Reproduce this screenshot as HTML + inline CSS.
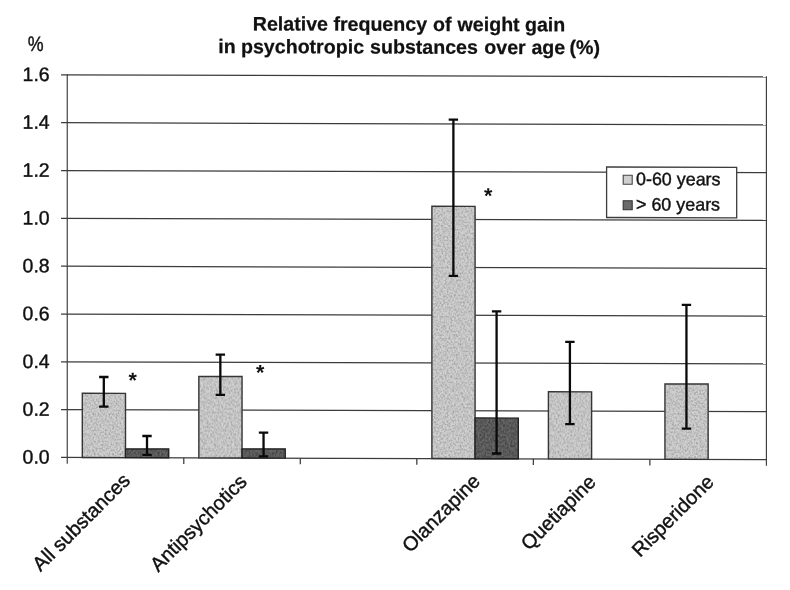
<!DOCTYPE html>
<html><head><meta charset="utf-8"><title>Relative frequency of weight gain</title>
<style>
html,body{margin:0;padding:0;background:#fff;}
body{width:790px;height:590px;overflow:hidden;}
svg{display:block;}
text{font-family:"Liberation Sans",Arial,Helvetica,sans-serif;fill:#111;stroke:#111;stroke-width:0.4px;}
.ax{font-size:19.5px;}
.pc{font-size:21px;}
.ti{font-size:19.6px;font-weight:bold;stroke-width:0.25px;}
.lg{font-size:17.9px;}
.xl{font-size:19.9px;}
.as{font-size:21.5px;font-weight:bold;stroke:none;}
</style></head><body>
<svg width="790" height="590" viewBox="0 0 790 590">
<defs>
<filter id="nl" x="0" y="0" width="100%" height="100%" color-interpolation-filters="sRGB">
<feTurbulence type="fractalNoise" baseFrequency="0.55" numOctaves="2" seed="7" result="t"/>
<feColorMatrix in="t" type="matrix" values="0.55 0 0 0 0.655  0.55 0 0 0 0.655  0.55 0 0 0 0.655  0 0 0 0 1" result="g"/>
<feGaussianBlur in="g" stdDeviation="0.45" result="gb"/>
<feComposite in="gb" in2="SourceGraphic" operator="in" result="c"/>
<feBlend in="c" in2="SourceGraphic" mode="multiply"/>
</filter>
<filter id="nd" x="0" y="0" width="100%" height="100%" color-interpolation-filters="sRGB">
<feTurbulence type="fractalNoise" baseFrequency="0.55" numOctaves="2" seed="11" result="t"/>
<feColorMatrix in="t" type="matrix" values="0.9 0 0 0 0.4  0.9 0 0 0 0.4  0.9 0 0 0 0.4  0 0 0 0 1" result="g"/>
<feGaussianBlur in="g" stdDeviation="0.45" result="gb"/>
<feComposite in="gb" in2="SourceGraphic" operator="in" result="c"/>
<feBlend in="c" in2="SourceGraphic" mode="multiply"/>
</filter>
</defs>
<rect width="790" height="590" fill="#fff"/>
<g transform="matrix(1 0.00293 0 1 0 -1.1573)">
<line x1="61.05" y1="458.45" x2="766.40" y2="458.45" stroke="#3c3c3c" stroke-width="1.25"/>
<line x1="61.05" y1="410.63" x2="766.40" y2="410.63" stroke="#3c3c3c" stroke-width="1.25"/>
<line x1="61.05" y1="362.81" x2="766.40" y2="362.81" stroke="#3c3c3c" stroke-width="1.25"/>
<line x1="61.05" y1="314.99" x2="766.40" y2="314.99" stroke="#3c3c3c" stroke-width="1.25"/>
<line x1="61.05" y1="267.18" x2="766.40" y2="267.18" stroke="#3c3c3c" stroke-width="1.25"/>
<line x1="61.05" y1="219.36" x2="766.40" y2="219.36" stroke="#3c3c3c" stroke-width="1.25"/>
<line x1="61.05" y1="171.54" x2="766.40" y2="171.54" stroke="#3c3c3c" stroke-width="1.25"/>
<line x1="61.05" y1="123.72" x2="766.40" y2="123.72" stroke="#3c3c3c" stroke-width="1.25"/>
<line x1="61.05" y1="75.90" x2="766.40" y2="75.90" stroke="#3c3c3c" stroke-width="1.25"/>
<line x1="67.25" y1="75.275" x2="67.25" y2="464.65" stroke="#3c3c3c" stroke-width="1.15"/>
<line x1="766.4" y1="75.275" x2="766.4" y2="464.65" stroke="#3c3c3c" stroke-width="1.15"/>
<line x1="183.77" y1="458.45" x2="183.77" y2="464.65" stroke="#3c3c3c" stroke-width="1.25"/>
<line x1="300.30" y1="458.45" x2="300.30" y2="464.65" stroke="#3c3c3c" stroke-width="1.25"/>
<line x1="416.82" y1="458.45" x2="416.82" y2="464.65" stroke="#3c3c3c" stroke-width="1.25"/>
<line x1="533.35" y1="458.45" x2="533.35" y2="464.65" stroke="#3c3c3c" stroke-width="1.25"/>
<line x1="649.88" y1="458.45" x2="649.88" y2="464.65" stroke="#3c3c3c" stroke-width="1.25"/>
<rect x="82.31" y="394.15" width="43.2" height="64.30" fill="#d2d2d2" filter="url(#nl)"/>
<rect x="82.31" y="394.15" width="43.2" height="64.30" fill="none" stroke="#353535" stroke-width="1.4"/>
<rect x="125.51" y="449.73" width="43.2" height="8.72" fill="#696969" filter="url(#nd)"/>
<rect x="125.51" y="449.73" width="43.2" height="8.72" fill="none" stroke="#222" stroke-width="1.4"/>
<rect x="198.84" y="377.01" width="43.2" height="81.44" fill="#d2d2d2" filter="url(#nl)"/>
<rect x="198.84" y="377.01" width="43.2" height="81.44" fill="none" stroke="#353535" stroke-width="1.4"/>
<rect x="242.04" y="449.38" width="43.2" height="9.07" fill="#696969" filter="url(#nd)"/>
<rect x="242.04" y="449.38" width="43.2" height="9.07" fill="none" stroke="#222" stroke-width="1.4"/>
<rect x="431.89" y="206.13" width="43.2" height="252.32" fill="#d2d2d2" filter="url(#nl)"/>
<rect x="431.89" y="206.13" width="43.2" height="252.32" fill="none" stroke="#353535" stroke-width="1.4"/>
<rect x="475.09" y="417.80" width="43.2" height="40.65" fill="#696969" filter="url(#nd)"/>
<rect x="475.09" y="417.80" width="43.2" height="40.65" fill="none" stroke="#222" stroke-width="1.4"/>
<rect x="548.41" y="391.29" width="43.2" height="67.16" fill="#d2d2d2" filter="url(#nl)"/>
<rect x="548.41" y="391.29" width="43.2" height="67.16" fill="none" stroke="#353535" stroke-width="1.4"/>
<rect x="664.94" y="383.15" width="43.2" height="75.30" fill="#d2d2d2" filter="url(#nl)"/>
<rect x="664.94" y="383.15" width="43.2" height="75.30" fill="none" stroke="#353535" stroke-width="1.4"/>
<path d="M99.11 377.85H108.51M99.11 407.55H108.51M103.81 377.85V407.55" stroke="#0a0a0a" stroke-width="2.3" fill="none"/>
<path d="M142.31 436.73H151.71M142.31 455.53H151.71M147.01 436.73V455.53" stroke="#0a0a0a" stroke-width="2.3" fill="none"/>
<path d="M215.64 355.21H225.04M215.64 395.31H225.04M220.34 355.21V395.31" stroke="#0a0a0a" stroke-width="2.3" fill="none"/>
<path d="M258.84 433.08H268.24M258.84 456.68H268.24M263.54 433.08V456.68" stroke="#0a0a0a" stroke-width="2.3" fill="none"/>
<path d="M448.69 119.43H458.09M448.69 275.63H458.09M453.39 119.43V275.63" stroke="#0a0a0a" stroke-width="2.3" fill="none"/>
<path d="M491.89 311.10H501.29M491.89 453.20H501.29M496.59 311.10V453.20" stroke="#0a0a0a" stroke-width="2.3" fill="none"/>
<path d="M565.21 341.29H574.61M565.21 423.69H574.61M569.91 341.29V423.69" stroke="#0a0a0a" stroke-width="2.3" fill="none"/>
<path d="M681.74 303.95H691.14M681.74 427.75H691.14M686.44 303.95V427.75" stroke="#0a0a0a" stroke-width="2.3" fill="none"/>
<text x="49.65" y="464.65" text-anchor="end" class="ax">0.0</text>
<text x="49.65" y="416.83" text-anchor="end" class="ax">0.2</text>
<text x="49.65" y="369.01" text-anchor="end" class="ax">0.4</text>
<text x="49.65" y="321.19" text-anchor="end" class="ax">0.6</text>
<text x="49.65" y="273.38" text-anchor="end" class="ax">0.8</text>
<text x="49.65" y="225.56" text-anchor="end" class="ax">1.0</text>
<text x="49.65" y="177.74" text-anchor="end" class="ax">1.2</text>
<text x="49.65" y="129.92" text-anchor="end" class="ax">1.4</text>
<text x="49.65" y="82.10" text-anchor="end" class="ax">1.6</text>
<text transform="translate(35.66 52.15) scale(0.85 1)" text-anchor="middle" class="pc">%</text>
<text y="30.8" class="ti"><tspan x="252.8">Relative</tspan> <tspan x="333.4">frequency</tspan> <tspan x="433.0">of</tspan> <tspan x="457.6">weight</tspan> <tspan x="525.0">gain</tspan></text>
<text y="53.6" class="ti"><tspan x="218.35">in</tspan> <tspan x="241.0">psychotropic</tspan> <tspan x="370.1">substances</tspan> <tspan x="484.3">over</tspan> <tspan x="531.4">age</tspan> <tspan x="569.6">(%)</tspan></text>
<text x="132.6" y="388.37" text-anchor="middle" class="as">*</text>
<text x="260.3" y="380.19" text-anchor="middle" class="as">*</text>
<text x="488.20000000000005" y="202.73" text-anchor="middle" class="as">*</text>
<rect x="606.6" y="166.39" width="130.1" height="50.5" fill="#fff" stroke="#3c3c3c" stroke-width="1.3"/>
<rect x="623.2" y="174.52" width="9.0" height="9.0" fill="#cfcfcf" stroke="#444" stroke-width="1.1"/>
<rect x="623.2" y="200.02" width="9.0" height="9.0" fill="#6a6a6a" stroke="#333" stroke-width="1.1"/>
<text x="636.0" y="184.37" class="lg">0-60 years</text>
<text x="636.0" y="209.67" class="lg">&gt; 60 years</text>
<text transform="translate(131.31 482.50) rotate(-45)" text-anchor="end" class="xl">All substances</text>
<text transform="translate(248.04 483.50) rotate(-45)" text-anchor="end" class="xl">Antipsychotics</text>
<text transform="translate(481.29 482.20) rotate(-45)" text-anchor="end" class="xl">Olanzapine</text>
<text transform="translate(597.11 482.70) rotate(-45)" text-anchor="end" class="xl">Quetiapine</text>
<text transform="translate(715.04 482.20) rotate(-45)" text-anchor="end" class="xl">Risperidone</text>
</g>
</svg>
</body></html>
